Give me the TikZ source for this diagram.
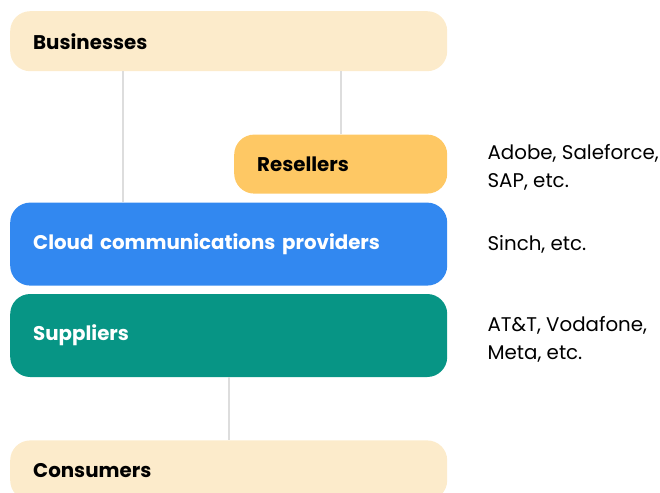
\documentclass[tikz,border=0pt]{standalone}
\usepackage{fontspec}
\setmainfont{Poppins}
\usetikzlibrary{positioning}

\definecolor{paleorange}{HTML}{FCEBCB}
\definecolor{resorange}{HTML}{FEC864}
\definecolor{cloudblue}{HTML}{3288F0}
\definecolor{suppgreen}{HTML}{079585}
\definecolor{linkgray}{HTML}{DDDDDD}

\begin{document}
\begin{tikzpicture}[node distance = 40pt, auto,
    layer/.style={rectangle, rounded corners=20pt, inner xsep=23pt, inner ysep=0pt,
      align=left, font=\fontsize{19.8}{23}\selectfont\bfseries},
    wide/.style={layer, text width=391pt},
    link/.style={linkgray, line width=2pt},
    example/.style={align=left, inner xsep=0pt, font=\fontsize{19.8}{28}\selectfont}]
      \useasboundingbox (0,0) rectangle (660pt,-492pt);
      \clip (0,0) rectangle (660pt,-492pt);
      % Place nodes
      \node [wide, fill=paleorange, minimum height=60pt, anchor=north west] (biz) at (10pt,-11pt) {Businesses};
      \node [below left=63pt and 0pt of biz.south east, layer, fill=resorange, text width=167pt, minimum height=59pt] (res) {Resellers};
      \node [below right=131pt and 0pt of biz.south west, wide, fill=cloudblue, text=white, minimum height=83pt] (cloud) {Cloud communications providers};
      \node [below right=8pt and 0pt of cloud.south west, wide, fill=suppgreen, text=white, minimum height=83pt] (sup) {Suppliers};
      \node [below right=63pt and 0pt of sup.south west, wide, fill=paleorange, minimum height=60pt] (cons) {Consumers};
      % Examples
      \node [right= of res.east, example, yshift=-3pt] (resex) {Adobe, Saleforce,\\SAP, etc.};
      \node [right= of cloud.east, example] (cloudex) {Sinch, etc.};
      \node [right= of sup.east, example, yshift=-4pt] (supex) {AT\&T, Vodafone,\\Meta, etc.};
      % Draw edges
      \draw [link] ([xshift=113pt]biz.south west) -- ([xshift=113pt]cloud.north west);
      \draw [link] (res.north) -- (res.north |- biz.south);
      \draw [link] (sup.south) -- (cons.north);
  \end{tikzpicture}
\end{document}
